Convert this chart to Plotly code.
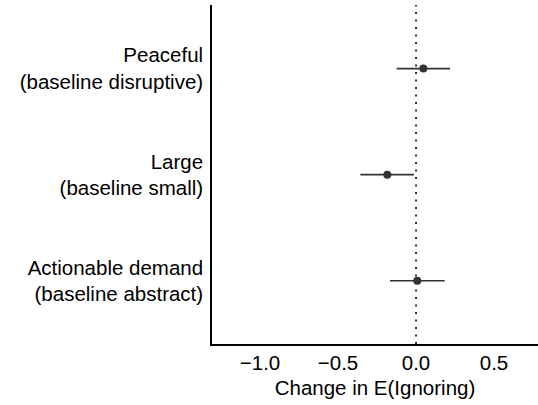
import plotly.graph_objects as go

# Effect estimates with 95% interval bounds
labels = [
    "Actionable demand<br>(baseline abstract)",
    "Large<br>(baseline small)",
    "Peaceful<br>(baseline disruptive)",
]
estimates = [0.008, -0.184, 0.047]
lower = [-0.167, -0.357, -0.124]
upper = [0.184, -0.013, 0.218]
positions = [1, 2, 3]

x_ticks = [-1.0, -0.5, 0.0, 0.5]
x_tick_text = ["\u22121.0", "\u22120.5", "0.0", "0.5"]

fig = go.Figure()

fig.add_trace(go.Scatter(
    x=estimates,
    y=positions,
    mode="markers",
    marker=dict(color="#333333", size=8),
    error_x=dict(
        type="data",
        symmetric=False,
        array=[u - e for u, e in zip(upper, estimates)],
        arrayminus=[e - l for e, l in zip(estimates, lower)],
        color="#333333",
        thickness=1.6,
        width=0,
    ),
    showlegend=False,
))

# Reference line at zero effect
fig.add_shape(
    type="line", xref="x", yref="paper",
    x0=0, x1=0, y0=0, y1=1,
    line=dict(color="black", width=1.6, dash="2px,5.5px"),
    layer="below",
)

FONT = "Liberation Sans, Arial, sans-serif"

fig.update_layout(
    width=538, height=405,
    margin=dict(l=212, r=0, t=5, b=61),
    plot_bgcolor="white",
    paper_bgcolor="white",
    font=dict(family=FONT, size=20.5, color="black"),
    xaxis=dict(
        range=[-1.308, 0.782],
        tickvals=x_ticks,
        ticktext=x_tick_text,
        tickfont=dict(family=FONT, size=20.5, color="black"),
        showgrid=False,
        zeroline=False,
        showline=True,
        linecolor="black",
        linewidth=1.5,
        ticks="",
        title=dict(text="Change in E(Ignoring)", standoff=7,
                   font=dict(family=FONT, size=20.5, color="black")),
    ),
    yaxis=dict(
        range=[0.403, 3.6],
        tickvals=positions,
        ticktext=labels,
        tickfont=dict(family=FONT, size=20.5, color="black"),
        showgrid=False,
        zeroline=False,
        showline=True,
        linecolor="black",
        linewidth=1.5,
        ticks="",
        ticklabelstandoff=3,
    ),
)

fig.write_html("out.html")
